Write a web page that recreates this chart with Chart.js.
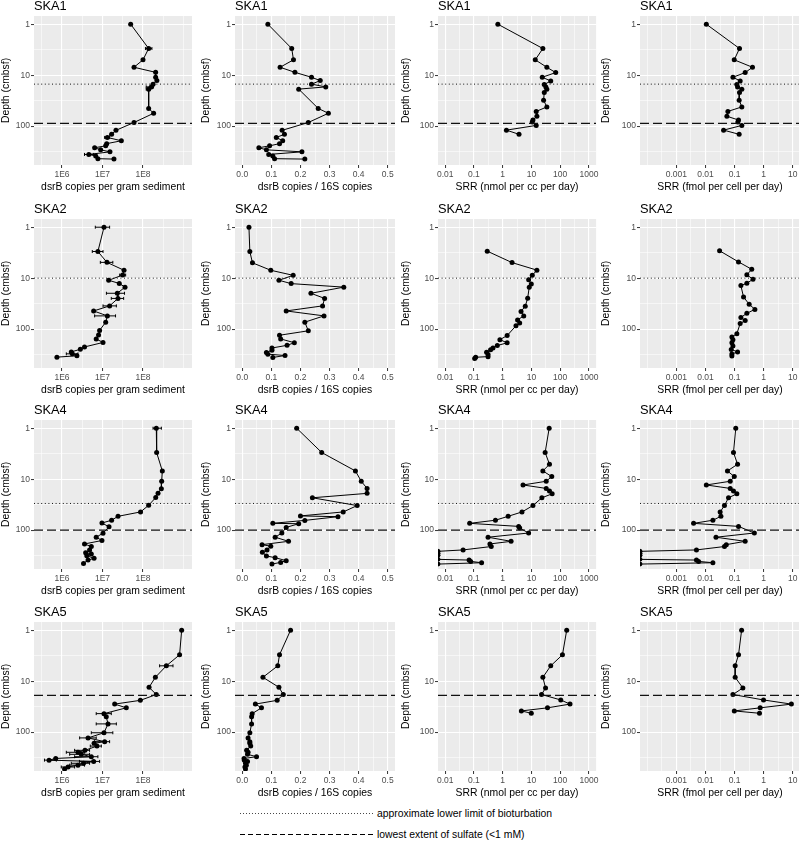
<!DOCTYPE html>
<html><head><meta charset="utf-8">
<script src="https://cdn.jsdelivr.net/npm/chart.js@4.4.1/dist/chart.umd.min.js"></script>
<style>
html,body{margin:0;padding:0;background:#fff;}
body{width:799px;height:841px;overflow:hidden;position:relative;}
canvas.p{position:absolute;}
#legend{position:absolute;left:0;top:800px;}
</style></head><body>
<svg id="legend" width="799" height="41">
  <line x1="240" y1="13.5" x2="373" y2="13.5" stroke="#333" stroke-width="0.9" stroke-dasharray="1,2"/>
  <text x="377" y="17.2" font-family="Liberation Sans, Arial, sans-serif" font-size="10.4" fill="#000">approximate lower limit of bioturbation</text>
  <line x1="240" y1="34.5" x2="373" y2="34.5" stroke="#000" stroke-width="1" stroke-dasharray="5,3"/>
  <text x="377" y="38.2" font-family="Liberation Sans, Arial, sans-serif" font-size="10.4" fill="#000">lowest extent of sulfate (&lt;1 mM)</text>
</svg>
<script>
const FONT = '"Liberation Sans", Arial, Helvetica, sans-serif';

const sites = ['SKA1', 'SKA2', 'SKA4', 'SKA5'];
const bioturbationDepth = [15, 10, 30, null];
const sulfateDepth = [88, null, 100, 19];

const depthTicks = [1, 10, 100];
const depthTickLabels = ['1', '10', '100'];
const depthMinorTicks = [3.162, 31.62, 316.2];

const gramTicks = [1e6, 1e7, 1e8];
const gramTickLabels = ['1E6', '1E7', '1E8'];
const gramMinorTicks = [3.162e5, 3.162e6, 3.162e7, 3.162e8, 1e9];
const ratioTicks = [0, 0.1, 0.2, 0.3, 0.4, 0.5];
const ratioTickLabels = ['0.0', '0.1', '0.2', '0.3', '0.4', '0.5'];
const ratioMinorTicks = [0.05, 0.15, 0.25, 0.35, 0.45];
const nmolTicks = [0.01, 0.1, 1, 10, 100, 1000];
const nmolTickLabels = ['0.01', '0.1', '1', '10', '100', '1000'];
const nmolMinorTicks = [0.03162, 0.3162, 3.162, 31.62, 316.2];
const fmolTicks = [0.001, 0.01, 0.1, 1, 10];
const fmolTickLabels = ['0.001', '0.01', '0.1', '1', '10'];
const fmolMinorTicks = [1e-4, 3.162e-4, 3.162e-3, 3.162e-2, 0.3162, 3.162];

// ---- SKA1 ----
const ska1GeneDepth = [1, 3, 5, 7, 8.8, 11, 12.8, 15, 17, 18.8, 45, 56, 85, 121, 145, 167, 194, 221, 244, 266, 292, 320, 360, 386, 436, 444];
const ska1PerGram = [4.96e7, 1.38e8, 1.0e8, 6.0e7, 2.05e8, 2.05e8, 2.2e8, 1.77e8, 1.6e8, 1.38e8, 1.38e8, 1.83e8, 6.0e7, 2.15e7, 1.68e7, 1.32e7, 2.92e7, 1.27e7, 1.2e7, 6.4e6, 9.0e6, 1.53e7, 4.6e6, 6.8e6, 7.7e6, 1.92e7];
const ska1PerGramLo = [null, 1.15e8, null, null, null, null, null, null, 1.2e8, 1.2e8, null, null, null, null, null, 1.13e7, null, null, null, null, null, null, 3.6e6, null, null, null];
const ska1PerGramHi = [null, 1.66e8, null, null, null, null, null, null, 1.82e8, 1.5e8, null, null, null, null, null, 1.5e7, null, null, null, null, null, null, 6.05e6, null, null, null];
const ska1Ratio = [0.088, 0.170, 0.176, 0.130, 0.181, 0.238, 0.268, 0.238, 0.287, 0.194, 0.261, 0.296, 0.227, 0.137, 0.145, 0.117, 0.139, 0.128, 0.094, 0.057, 0.083, 0.205, 0.091, 0.105, 0.111, 0.215];
const ska1RateDepth = [1, 3, 5, 7, 8.9, 11, 13, 15.3, 17, 19, 21.8, 31, 42, 51.5, 64, 76, 83, 97, 120, 145];
const ska1Nmol = [0.68, 25, 13.6, 34.4, 70, 23.8, 47, 27.9, 31.8, 34.4, 28, 26.5, 34.4, 14.7, 15.5, 11.3, 10.7, 14.7, 1.35, 3.7];
const ska1Fmol = [0.0107, 0.148, 0.0975, 0.414, 0.232, 0.088, 0.156, 0.12, 0.127, 0.178, 0.148, 0.144, 0.178, 0.059, 0.0545, 0.137, 0.13, 0.178, 0.042, 0.144];

// ---- SKA2 ----
const ska2GramDepth = [1, 3, 4.9, 7, 8.7, 11, 12.7, 15, 19.8, 25, 35, 44, 55, 73, 106, 130, 156, 183, 224, 249, 280, 306, 334, 355];
const ska2PerGram = [1.09e7, 7.7e6, 1.29e7, 3.4e7, 3.15e7, 1.42e7, 2.6e7, 3.6e7, 2.32e7, 2.41e7, 1.5e7, 6.05e6, 1.32e7, 1.2e7, 8.5e6, 8.0e6, 7.0e6, 1.03e7, 3.6e6, 2.84e6, 1.7e6, 1.8e6, 2.34e6, 7.5e5];
const ska2PerGramLo = [6.65e6, 5.6e6, 8.85e6, null, 2.66e7, null, null, null, 1.25e7, 1.65e7, 1.03e7, null, 6.4e6, null, null, null, null, null, null, null, null, 1.28e6, null, null];
const ska2PerGramHi = [1.5e7, 1.03e7, 1.8e7, null, 3.73e7, null, null, null, 3.5e7, 3.33e7, 2.2e7, null, 2.1e7, null, null, null, null, null, null, null, null, 2.48e6, null, null];
const ska2RatioDepth = [1, 3, 5, 7, 8.8, 11, 12.8, 15, 19.8, 25, 35, 44, 55, 73, 108, 132, 156, 185, 208, 235, 260, 288, 310, 330, 360];
const ska2Ratio = [0.023, 0.026, 0.035, 0.098, 0.175, 0.126, 0.168, 0.349, 0.236, 0.283, 0.276, 0.151, 0.281, 0.215, 0.227, 0.128, 0.132, 0.179, 0.154, 0.102, 0.102, 0.083, 0.088, 0.147, 0.105];
const ska2NmolDepth = [2.95, 4.95, 6.96, 8.8, 10.8, 13, 15, 24.8, 35.5, 45, 55, 66, 75.5, 86, 134, 161, 186, 210, 236, 254, 286, 316, 347, 357, 379];
const ska2Nmol = [0.29, 2.12, 15.5, 10.7, 8.0, 9.9, 8.4, 7.4, 6.1, 4.35, 5.4, 3.3, 3.9, 2.9, 1.43, 0.8, 1.43, 0.65, 0.46, 0.38, 0.275, 0.31, 0.31, 0.115, 0.106];
const ska2FmolDepth = [2.9, 4.8, 6.7, 8.6, 10.5, 12.6, 14, 23.5, 32.5, 41, 49, 59, 68, 78, 123, 143, 161, 186, 215, 250, 281, 307, 336];
const ska2Fmol = [0.0306, 0.137, 0.39, 0.265, 0.43, 0.265, 0.165, 0.204, 0.318, 0.5, 0.265, 0.165, 0.232, 0.156, 0.12, 0.081, 0.088, 0.081, 0.088, 0.077, 0.127, 0.081, 0.081];

// ---- SKA4 ----
const ska4GramDepth = [1, 3, 6.9, 11, 15.4, 19, 23, 32.5, 44, 53.6, 64, 72.6, 86, 115, 138, 160, 187, 210, 245, 277, 294, 318, 358, 387, 450];
const ska4PerGram = [2.13e8, 2.17e8, 3.0e8, 2.89e8, 2.84e8, 2.35e8, 2.06e8, 1.38e8, 8.7e7, 2.42e7, 1.68e7, 9.7e6, 1.45e7, 1.03e7, 7.0e6, 9.7e6, 3.6e6, 5.3e6, 4.8e6, 3.84e6, 5.3e6, 4.1e6, 6.2e6, 4.4e6, 3.4e6];
const ska4PerGramLo = [1.77e8, null, null, null, null, null, null, null, null, null, null, null, null, null, null, null, null, null, null, null, null, null, null, null, null];
const ska4PerGramHi = [2.84e8, null, null, null, null, null, null, null, null, null, null, null, null, null, null, null, null, null, null, null, null, null, null, null, null];
const ska4RatioDepth = [1, 3, 6.9, 11, 15.2, 19, 23.2, 33, 44, 52.7, 54.5, 64.5, 73.6, 75, 88.5, 114, 138, 166, 193, 207, 245, 271, 322, 348, 398, 430, 464];
const ska4Ratio = [0.187, 0.273, 0.389, 0.409, 0.429, 0.429, 0.241, 0.395, 0.347, 0.2, 0.329, 0.215, 0.105, 0.194, 0.151, 0.136, 0.113, 0.159, 0.068, 0.098, 0.085, 0.069, 0.083, 0.113, 0.151, 0.132, 0.102];
const ska4NmolDepth = [1, 3, 5.1, 6.9, 8.9, 11, 13, 15.2, 17.1, 19.4, 23.2, 33, 44, 53.6, 64, 73.7, 84.6, 91, 114, 138, 166, 187, 210, 245, 261, 285, 313, 375, 387, 411, 437, 464];
const ska4Nmol = [41.5, 30, 42.5, 25, 51, 32.7, 5.1, 32.7, 42.5, 52.6, 23.1, 11.3, 4.7, 1.55, 0.56, 0.071, 3.6, 3.9, 8.0, 0.31, 1.96, 0.36, 0.4, 0.042, 0.0056, 0.0056, 0.0056, 0.0056, 0.068, 0.077, 0.185, 0.0056];
const ska4FmolDepth = [1, 3, 5.1, 6.9, 8.9, 11, 13, 15.2, 17.1, 19.4, 23.2, 33, 44, 53.6, 64, 73.7, 84.6, 114, 138, 166, 193, 210, 245, 261, 285, 313, 375, 387, 411, 437, 464];
const ska4Fmol = [0.11, 0.092, 0.127, 0.057, 0.098, 0.071, 0.0107, 0.071, 0.092, 0.12, 0.062, 0.045, 0.032, 0.034, 0.018, 0.0039, 0.137, 0.48, 0.023, 0.232, 0.052, 0.045, 0.0049, 0.000056, 0.000056, 0.000056, 0.000056, 0.0049, 0.0058, 0.018, 0.000056];

// ---- SKA5 ----
const ska5GeneDepth = [1, 3.04, 5, 8.4, 13.2, 18.3, 23.8, 28.2, 33.4, 43.4, 50, 69, 103, 130, 154, 166, 188, 228, 249, 273, 304, 329, 355, 376, 409, 445, 484, 531];
const ska5PerGram = [9.0e8, 8.0e8, 3.77e8, 2.02e8, 1.41e8, 2.13e8, 8.6e7, 2.0e7, 3.87e7, 1.09e7, 1.24e7, 1.37e7, 1.09e7, 4.4e6, 1.13e7, 6.2e6, 7.3e6, 3.7e6, 2.48e6, 3.0e6, 5.3e6, 7.0e5, 4.8e5, 6.05e6, 3.4e6, 2.48e6, 1.41e6, 1.16e6];
const ska5PerGramLo = [null, null, 2.57e8, null, null, null, null, null, null, 7.0e6, null, 7.0e6, 5.3e6, 2.73e6, 6.4e6, null, 5.0e6, 2.05e6, 1.28e6, 1.55e6, 2.05e6, null, 3.7e5, 2.7e6, 1.7e6, 1.55e6, 9.6e5, null];
const ska5PerGramHi = [null, null, 5.5e8, null, null, null, null, null, null, 1.65e7, null, 2.2e7, 1.8e7, 7.0e6, 1.5e7, null, 9.35e6, 4.8e6, 3.63e6, 4.8e6, 7.7e6, null, 7.25e5, 8.5e6, 4.8e6, 3.6e6, 2.05e6, null];
const ska5Ratio = [0.166, 0.128, 0.122, 0.071, 0.126, 0.141, 0.12, 0.045, 0.066, 0.034, 0.032, 0.032, 0.026, 0.020, 0.026, 0.026, 0.029, 0.015, 0.020, 0.018, 0.049, 0.006, 0.007, 0.018, 0.011, 0.014, 0.009, 0.011];
const ska5RateDepth = [1, 3.04, 5, 8.4, 13.6, 18.3, 23.4, 28.2, 33.4, 38.4, 42.7];
const ska5Nmol = [169, 120, 47, 25, 31, 22.5, 105, 220, 36.3, 4.47, 9.9];
const ska5Fmol = [0.175, 0.137, 0.105, 0.105, 0.193, 0.088, 0.99, 9.0, 0.76, 0.098, 0.72];

// table built from the arrays: [site][column]
const siteData = [
  [{depth: ska1GeneDepth, value: ska1PerGram, lo: ska1PerGramLo, hi: ska1PerGramHi},
   {depth: ska1GeneDepth, value: ska1Ratio},
   {depth: ska1RateDepth, value: ska1Nmol},
   {depth: ska1RateDepth, value: ska1Fmol}],
  [{depth: ska2GramDepth, value: ska2PerGram, lo: ska2PerGramLo, hi: ska2PerGramHi},
   {depth: ska2RatioDepth, value: ska2Ratio},
   {depth: ska2NmolDepth, value: ska2Nmol},
   {depth: ska2FmolDepth, value: ska2Fmol}],
  [{depth: ska4GramDepth, value: ska4PerGram, lo: ska4PerGramLo, hi: ska4PerGramHi},
   {depth: ska4RatioDepth, value: ska4Ratio},
   {depth: ska4NmolDepth, value: ska4Nmol},
   {depth: ska4FmolDepth, value: ska4Fmol}],
  [{depth: ska5GeneDepth, value: ska5PerGram, lo: ska5PerGramLo, hi: ska5PerGramHi},
   {depth: ska5GeneDepth, value: ska5Ratio},
   {depth: ska5RateDepth, value: ska5Nmol},
   {depth: ska5RateDepth, value: ska5Fmol}]
];

const colConfigs = [
  {type: 'logarithmic', ticks: gramTicks, labels: gramTickLabels, minor: gramMinorTicks, min: 2.04e5, max: 1.62e9, title: 'dsrB copies per gram sediment', left: 34, right: 192},
  {type: 'linear', ticks: ratioTicks, labels: ratioTickLabels, minor: ratioMinorTicks, min: -0.025, max: 0.525, title: 'dsrB copies / 16S copies', left: 35, right: 195},
  {type: 'logarithmic', ticks: nmolTicks, labels: nmolTickLabels, minor: nmolMinorTicks, min: 5.62e-3, max: 1778, title: 'SRR (nmol per cc per day)', left: 38, right: 197},
  {type: 'logarithmic', ticks: fmolTicks, labels: fmolTickLabels, minor: fmolMinorTicks, min: 5.62e-5, max: 17.78, title: 'SRR (fmol per cell per day)', left: 40, right: 200}
];
const rowTops = [0, 203, 404, 606];
const Y_MIN = 0.69, Y_MAX = 580;

function tickList(major, minor) {
  return major.concat(minor).sort((a, b) => a - b).map(v => ({value: v}));
}
function gridOpts(major) {
  return {
    color: '#ffffff',
    lineWidth: c => (c.tick && major.indexOf(c.tick.value) >= 0) ? 1.1 : 0.55,
    tickColor: c => (c.tick && major.indexOf(c.tick.value) >= 0) ? '#333333' : 'rgba(0,0,0,0)',
    tickLength: 3,
    tickWidth: 1,
    drawTicks: true
  };
}

const bgPlugin = {
  id: 'panelBg',
  beforeDraw(chart) {
    const {ctx, chartArea: a} = chart;
    ctx.save();
    ctx.fillStyle = '#EBEBEB';
    ctx.fillRect(a.left, a.top, a.right - a.left, a.bottom - a.top);
    ctx.restore();
  }
};

function makePanel(r, c) {
  const cfg = colConfigs[c];
  const d = siteData[r][c];
  const cv = document.createElement('canvas');
  cv.width = 200; cv.height = 203; cv.className = 'p';
  cv.style.left = (c * 200) + 'px';
  cv.style.top = rowTops[r] + 'px';
  document.body.appendChild(cv);

  const pts = d.depth.map((y, i) => ({x: d.value[i], y: y}));
  const datasets = [];
  if (bioturbationDepth[r] != null) {
    datasets.push({data: [{x: cfg.min, y: bioturbationDepth[r]}, {x: cfg.max, y: bioturbationDepth[r]}],
      showLine: true, borderColor: '#111', borderWidth: 1, borderDash: [1, 2.6], pointRadius: 0, clip: 0});
  }
  if (sulfateDepth[r] != null) {
    datasets.push({data: [{x: cfg.min, y: sulfateDepth[r]}, {x: cfg.max, y: sulfateDepth[r]}],
      showLine: true, borderColor: '#111', borderWidth: 1.3, borderDash: [9, 4], pointRadius: 0, clip: 0});
  }
  datasets.push({data: pts, showLine: true, borderColor: '#000', borderWidth: 1,
    pointRadius: 2.5, pointHoverRadius: 2.5, pointBackgroundColor: '#000', pointBorderWidth: 0, clip: 0});

  const errPlugin = {
    id: 'errbars',
    beforeDatasetsDraw(chart) {
      if (!d.lo) return;
      const {ctx, chartArea: a} = chart;
      const xs = chart.scales.x, ys = chart.scales.y;
      ctx.save();
      ctx.beginPath(); ctx.rect(a.left, a.top, a.right - a.left, a.bottom - a.top); ctx.clip();
      ctx.strokeStyle = '#000'; ctx.lineWidth = 1;
      for (let i = 0; i < d.depth.length; i++) {
        if (d.lo[i] == null) continue;
        const py = ys.getPixelForValue(d.depth[i]);
        const x1 = xs.getPixelForValue(d.lo[i]);
        const x2 = xs.getPixelForValue(d.hi[i]);
        ctx.beginPath();
        ctx.moveTo(x1, py); ctx.lineTo(x2, py);
        ctx.moveTo(x1, py - 1.5); ctx.lineTo(x1, py + 1.5);
        ctx.moveTo(x2, py - 1.5); ctx.lineTo(x2, py + 1.5);
        ctx.stroke();
      }
      ctx.restore();
    }
  };
  const titlePlugin = {
    id: 'siteTitle',
    afterDraw(chart) {
      const {ctx, chartArea: a} = chart;
      ctx.save();
      ctx.font = '12.8px ' + FONT;
      ctx.fillStyle = '#000';
      ctx.textAlign = 'left';
      ctx.textBaseline = 'alphabetic';
      ctx.fillText(sites[r], a.left, 9.8);
      ctx.restore();
    }
  };

  new Chart(cv, {
    type: 'scatter',
    data: {datasets},
    options: {
      responsive: false, animation: false, devicePixelRatio: 1, events: [],
      layout: {padding: {top: 16, left: 0, right: 200 - cfg.right, bottom: 0}, autoPadding: false},
      plugins: {legend: {display: false}, tooltip: {enabled: false}, title: {display: false}},
      scales: {
        x: {
          type: cfg.type, position: 'bottom', min: cfg.min, max: cfg.max,
          afterBuildTicks: s => { s.ticks = tickList(cfg.ticks, cfg.minor); },
          afterFit: s => { s.height = 38; },
          ticks: {autoSkip: false, maxRotation: 0, minRotation: 0, padding: 1.5, color: '#4D4D4D',
            font: {size: 8.5, family: FONT},
            callback: v => { const k = cfg.ticks.indexOf(v); return k >= 0 ? cfg.labels[k] : ''; }},
          grid: gridOpts(cfg.ticks),
          border: {display: false},
          title: {display: true, text: cfg.title, color: '#000', font: {size: 10.4, family: FONT}, padding: {top: 0, bottom: 10}}
        },
        y: {
          type: 'logarithmic', reverse: true, min: Y_MIN, max: Y_MAX,
          afterBuildTicks: s => { s.ticks = tickList(depthTicks, depthMinorTicks); },
          afterFit: s => { s.width = cfg.left; },
          ticks: {autoSkip: false, padding: 1, color: '#4D4D4D', font: {size: 8.5, family: FONT},
            callback: v => { const k = depthTicks.indexOf(v); return k >= 0 ? depthTickLabels[k] : ''; }},
          grid: gridOpts(depthTicks),
          border: {display: false},
          title: {display: true, text: 'Depth (cmbsf)', color: '#000', font: {size: 10.4, family: FONT}, padding: {top: 0, bottom: 0}}
        }
      }
    },
    plugins: [bgPlugin, errPlugin, titlePlugin]
  });
}

for (let r = 0; r < 4; r++) for (let c = 0; c < 4; c++) makePanel(r, c);
</script>
</body></html>
